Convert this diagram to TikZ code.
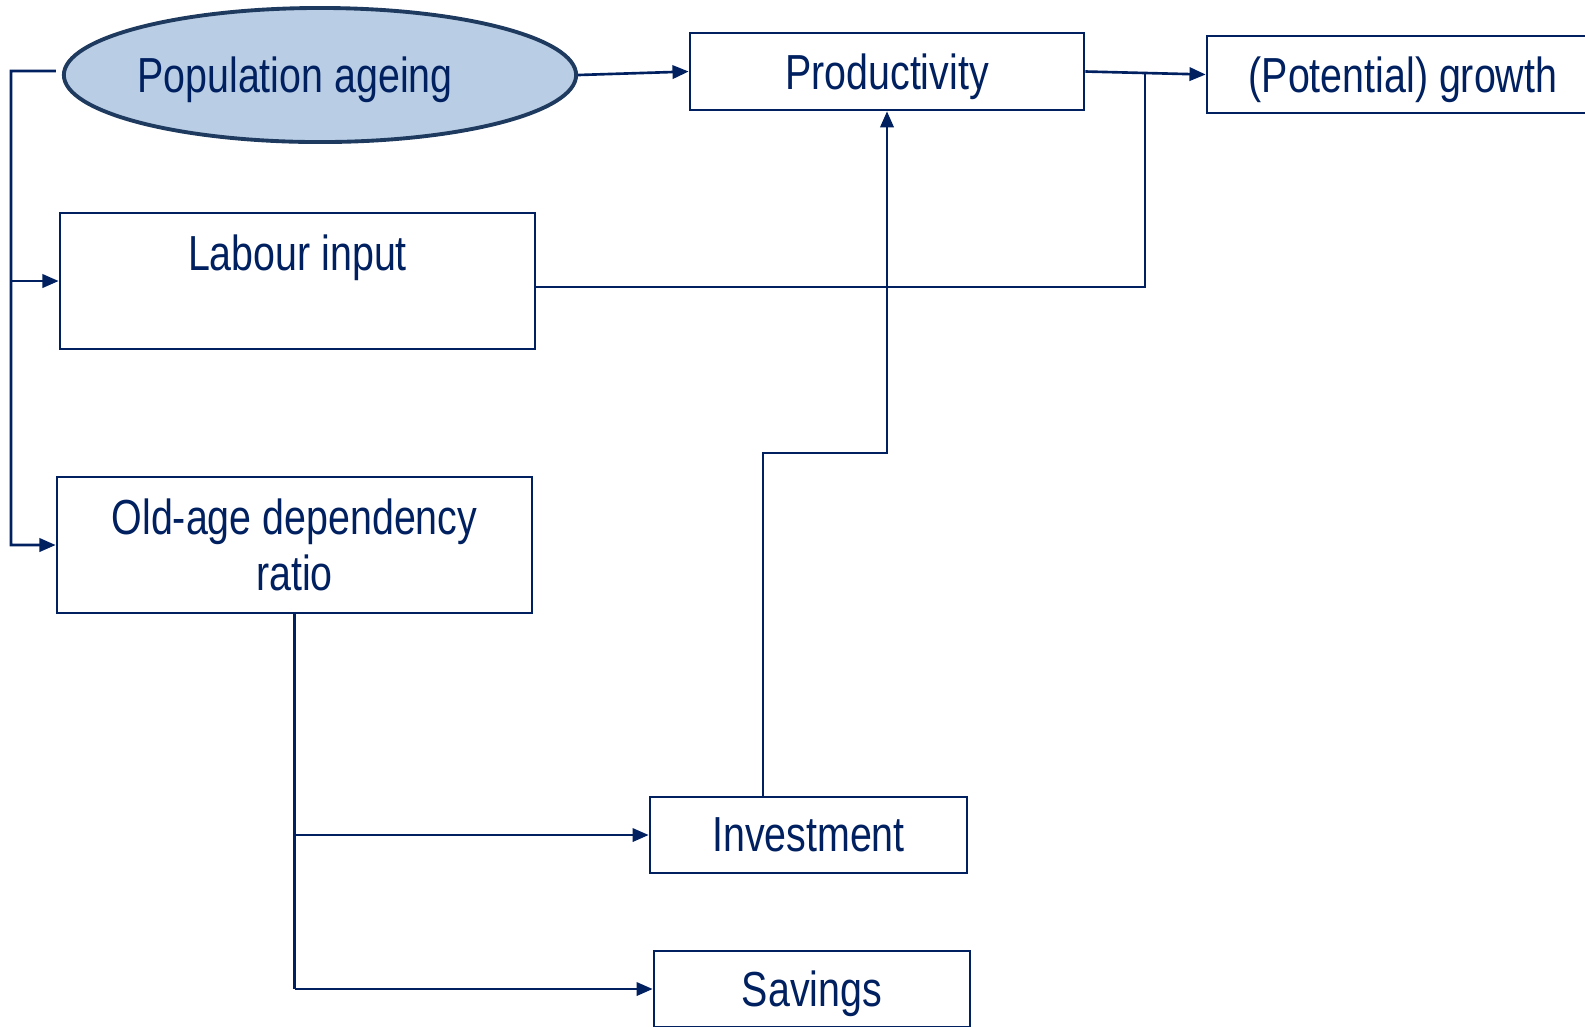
\documentclass[tikz,border=0pt]{standalone}
\usepackage{fontspec}
\setmainfont[FakeStretch=0.8]{Liberation Sans}
\usepackage{xcolor}
\usetikzlibrary{arrows.meta,shapes.geometric}
\definecolor{navy}{HTML}{002060}
\definecolor{paleblue}{HTML}{B9CDE5}
\definecolor{rimblue}{HTML}{1F3A5F}
\tikzset{every node/.style={font=\fontsize{14}{16}\selectfont,text=navy},
    factor/.style={draw=navy,line width=0.7pt,rectangle,inner sep=0pt,align=center,text depth=0pt},
    driver/.style={draw=rimblue,fill=paleblue,line width=1.1pt,ellipse,inner sep=0pt,text depth=0pt,
        minimum width=5.12cm,minimum height=1.34cm},
    link/.style={draw=navy,line width=0.75pt},
    arr/.style={link,-{Triangle[length=4.6pt,width=3.8pt]}},
    x=0.01cm,y=-0.01cm}
\begin{document}
\begin{tikzpicture}
	\useasboundingbox (0,0) rectangle (1585,1026);
	\clip (0,0) rectangle (1585,1026);
	\node[driver] (pop) at (320,75) {\makebox[0pt]{Population ageing\kern0.5cm}};
	\node[factor,minimum width=3.94cm,minimum height=0.77cm] (prod) at (887,71.5) {Productivity};
	\node[factor,minimum width=3.92cm,minimum height=0.77cm] (growth) at (1403,74.5) {(Potential) growth};
	\node[factor,minimum width=4.75cm,minimum height=1.36cm] (labour) at (297.5,281) {Labour input\\\strut};
	\node[factor,minimum width=4.75cm,minimum height=1.36cm] (oldage) at (294.5,545) {Old-age dependency\\ratio};
	\node[factor,minimum width=3.17cm,minimum height=0.76cm] (invest) at (808.5,835) {Investment};
	\node[factor,minimum width=3.16cm,minimum height=0.76cm] (savings) at (812,989) {Savings};
	\coordinate (bus) at (11,71);
	\coordinate (join) at (1145,74);
	\coordinate (kink) at (887,453);
	% feedback from ageing
	\draw[arr,shorten <=1.7pt] ([yshift=0.04cm]pop.west) -- (bus) |- (oldage.west);
	\draw[arr] (bus |- labour.west) -- (labour.west);
	\draw[arr] (pop.east) -- (prod.west);
	\draw[arr] (prod.east) -- (growth.west);
	\draw[link] ([yshift=-0.06cm]labour.east) -| (join);
	\draw[arr] ([xshift=-0.455cm]invest.north) |- (kink) -- (prod.south);
	% dependency ratio effects
	\draw[link] (oldage.south) -- (oldage.south |- savings.west);
	\draw[arr] (oldage.south |- invest.west) -- (invest.west);
	\draw[arr] (oldage.south |- savings.west) -- (savings.west);
\end{tikzpicture}
\end{document}
